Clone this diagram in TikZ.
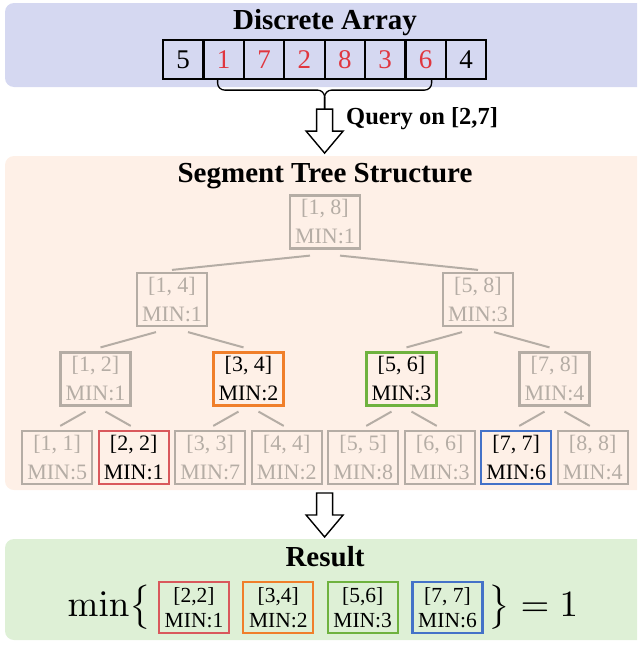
\documentclass[tikz,border=0pt]{standalone}
\usepackage[no-math]{fontspec}
\setmainfont{Liberation Serif}
\usetikzlibrary{calc}

\definecolor{arraypanel}{HTML}{D5D8F1}
\definecolor{treepanel}{HTML}{FEF0E7}
\definecolor{resultpanel}{HTML}{DEF0D6}
\definecolor{treegray}{HTML}{B5ADA5}
\definecolor{hlred}{HTML}{D9585C}
\definecolor{digitred}{HTML}{E0363F}
\definecolor{hlorange}{HTML}{F07F2A}
\definecolor{hlgreen}{HTML}{6FB23F}
\definecolor{hlblue}{HTML}{4472C8}

\begin{document}
\begin{tikzpicture}[x=1pt,y=-1pt,
  paneltitle/.style={font=\fontsize{29}{32}\selectfont\bfseries, anchor=base, inner sep=0pt},
  cellbox/.style={draw, line width=2.2pt, minimum width=40.4pt, minimum height=39pt,
    inner sep=0pt, font=\fontsize{27}{30}\selectfont},
  seg/.style={draw=treegray, line width=2.2pt, text=treegray, minimum width=70pt,
    minimum height=53pt, inner sep=0pt, align=center, font=\fontsize{22}{29}\selectfont},
  hit/.style={seg, draw=#1, text=black},
  resbox/.style={draw=#1, line width=2.2pt, minimum width=70pt, minimum height=51pt,
    inner sep=0pt, align=center, font=\fontsize{21.5}{25}\selectfont},
  treeedge/.style={draw=treegray, line width=2pt},
  formula/.style={anchor=base west, inner sep=0pt, scale=3.7},
  blockarrow/.pic={\draw[fill=white, line width=1.4pt, line join=miter]
    (-8,0) -- (8,0) -- (8,22) -- (18.5,22) -- (0,44) -- (-18.5,22) -- (-8,22) -- cycle;}
]
\useasboundingbox (0,0) rectangle (637,645);
\clip (0,0) rectangle (637,645);

% background panels
\fill[arraypanel, rounded corners=9pt] (5,3) rectangle (660,87);
\fill[treepanel, rounded corners=9pt] (5,156) rectangle (660,490);
\fill[resultpanel, rounded corners=9pt] (5,539) rectangle (660,640);

% ---- discrete array ----
\node[paneltitle] (arraytitle) at (325,29) {Discrete Array};
\foreach \v/\c [count=\i] in {5/black,1/digitred,7/digitred,2/digitred,8/digitred,3/digitred,6/digitred,4/black}
  \node[cellbox, text=\c] (c\i) at ({163+40.4*(\i-0.5)},59.5) {\v};

% brace over the queried range
\coordinate (bl) at ($(c2.south)+(-6,0)$);
\coordinate (br) at ($(c7.south)+(6,0)$);
\coordinate (bm) at ($(bl)!0.5!(br)$);
\draw[line width=1.3pt, rounded corners=7pt] (bl) |- ($(bm)+(0,10)$) -- ($(bm)+(0,29)$);
\draw[line width=1.3pt, rounded corners=7pt] (br) |- ($(bm)+(0,10)$) -- ($(bm)+(0,29)$);
\coordinate (arrowtop) at ($(bm)+(0,29)$);
\pic at (arrowtop) {blockarrow};
\node[anchor=base west, inner sep=0pt, font=\fontsize{24.5}{27}\selectfont\bfseries] (query) at (346,124) {Query on [2,7]};

% ---- segment tree ----
\node[paneltitle] (treetitle) at (325,182) {Segment Tree Structure};

\node[seg] (n18) at (325,222) {[1, 8]\\MIN:1};
\node[seg] (n14) at (172,299.5) {[1, 4]\\MIN:1};
\node[seg] (n58) at (478,299.5) {[5, 8]\\MIN:3};
\node[seg] (n12) at (95.5,379) {[1, 2]\\MIN:1};
\node[hit=hlorange] (n34) at (248.5,379) {[3, 4]\\MIN:2};
\node[hit=hlgreen] (n56) at (401.5,379) {[5, 6]\\MIN:3};
\node[seg] (n78) at (554.5,379) {[7, 8]\\MIN:4};
\node[seg] (n11) at (57.25,457.5) {[1, 1]\\MIN:5};
\node[hit=hlred] (n22) at (133.75,457.5) {[2, 2]\\MIN:1};
\node[seg] (n33) at (210.25,457.5) {[3, 3]\\MIN:7};
\node[seg] (n44) at (286.75,457.5) {[4, 4]\\MIN:2};
\node[seg] (n55) at (363.25,457.5) {[5, 5]\\MIN:8};
\node[seg] (n66) at (439.75,457.5) {[6, 6]\\MIN:3};
\node[hit=hlblue] (n77) at (516.25,457.5) {[7, 7]\\MIN:6};
\node[seg] (n88) at (592.75,457.5) {[8, 8]\\MIN:4};

\foreach \p/\c/\sx/\sy/\ex/\ey in {
    n18/n14/-15/6/0/-2, n18/n58/15/6/0/-2,
    n14/n12/-16/5/5/-4, n14/n34/16/5/-5/-4,
    n58/n56/-16/5/5/-4, n58/n78/16/5/-5/-4,
    n12/n11/-10/5/3/-4, n12/n22/10/5/-3/-4,
    n34/n33/-10/5/3/-4, n34/n44/10/5/-3/-4,
    n56/n55/-10/5/3/-4, n56/n66/10/5/-3/-4,
    n78/n77/-10/5/3/-4, n78/n88/10/5/-3/-4}
  \draw[treeedge] ($(\p.south)+(\sx,\sy)$) -- ($(\c.north)+(\ex,\ey)$);

\coordinate (arrowtop2) at (bm|-0,493);
\pic at (arrowtop2) {blockarrow};

% ---- result ----
\node[paneltitle] (restitle) at (325,566) {Result};
\node[formula] (minl) at (67,616) {$\min\bigl\{$};
\node[resbox=hlred] (r1) at (194,607.5) {[2,2]\\MIN:1};
\node[resbox=hlorange] (r2) at (278.3,607.5) {[3,4]\\MIN:2};
\node[resbox=hlgreen] (r3) at (362.7,607.5) {[5,6]\\MIN:3};
\node[resbox=hlblue] (r4) at (447.5,607.5) {[7, 7]\\MIN:6};
\node[formula] (minr) at (488,616) {$\bigr\} = 1$};
\end{tikzpicture}
\end{document}
